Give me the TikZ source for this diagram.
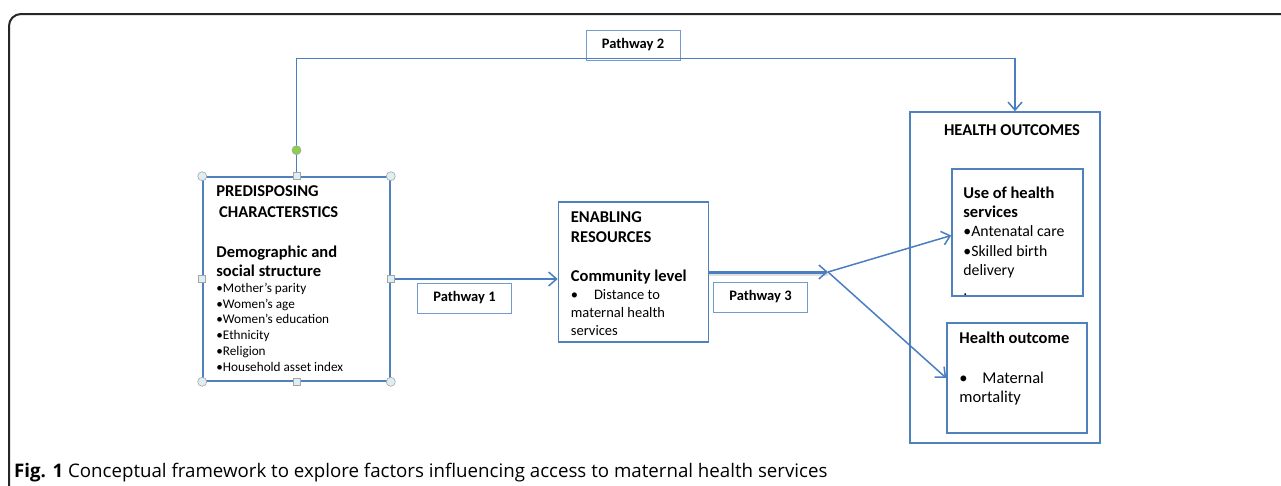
\documentclass[tikz,border=0pt]{standalone}
\usepackage{fontspec}
\setmainfont{Carlito}
\newfontfamily\capfont{Open Sans}
\usetikzlibrary{positioning,arrows.meta}
\definecolor{boxblue}{RGB}{79,129,189}
\definecolor{lineblue}{RGB}{74,126,193}
\definecolor{handlefill}{RGB}{222,238,245}
\definecolor{rotgreen}{RGB}{140,208,70}

\begin{document}
\begin{tikzpicture}[x=1pt,y=-1pt,
    box/.style 2 args={draw=boxblue,line width=1.6pt,minimum width=#1,minimum height=#2,inner sep=0pt},
    pathbox/.style={draw=boxblue!80,line width=1pt,minimum width=94pt,minimum height=30pt,inner sep=0pt,font=\fontsize{14.5}{16}\selectfont\bfseries},
    txt/.style={inner sep=0pt,anchor=base west,align=left}, % base = last line
    head/.style={txt,font=\fontsize{16.5}{20}\selectfont\bfseries},
    flow/.style={draw=lineblue,line width=1.5pt,-{Straight Barb[length=8pt,width=14pt,line width=1.5pt]}},
    handle/.style={draw=gray!70,fill=handlefill,line width=0.6pt}]
\useasboundingbox (0,0) rectangle (1281,485);
\draw[line width=2pt,black!85,rounded corners=12pt] (9,500) -- (9,14) -- (1300,14); % outer frame

% boxes
\node[box={187pt}{204pt}] (pre) at (296.5,279) {};
\node[box={150pt}{140pt}] (en) at (633.5,272) {};
\node[box={190pt}{331pt}] (ho) at (1005,277.5) {};
\node[box={131pt}{127pt}] (use) at (1017.5,232.5) {};
\node[box={140pt}{110pt}] (hout) at (1017,378) {};
\node[pathbox] (p1) at (464.5,298) {Pathway 1};
\node[pathbox] (p2) at (633,45) {Pathway 2};
\node[pathbox] (p3) at (760.5,297) {Pathway 3};
\coordinate (hub) at (828,272);

% texts in the boxes
\node[head,font=\fontsize{16.5}{21}\selectfont\bfseries] (preh) at ([shift={(14pt,-41pt)}]pre.north west) {PREDISPOSING\\ \,CHARACTERSTICS};
\node[head,font=\fontsize{16.5}{19}\selectfont\bfseries] (pres) at ([shift={(14pt,-100pt)}]pre.north west) {Demographic and\\social structure};
\node[txt,font=\fontsize{13.2}{15.8}\selectfont] (prel) at ([shift={(14pt,-195pt)}]pre.north west)
  {\textbullet Mother’s parity\\\textbullet Women’s age\\\textbullet Women’s education\\\textbullet Ethnicity\\\textbullet Religion\\\textbullet Household asset index};
\node[head] (enh) at ([shift={(13pt,-41pt)}]en.north west) {ENABLING\\RESOURCES};
\node[head] (ens) at ([shift={(13pt,-80pt)}]en.north west) {Community level};
\node[txt,font=\fontsize{14.5}{18}\selectfont] (enl) at ([shift={(13pt,-134pt)}]en.north west)
  {\textbullet\hspace{1.1em}Distance to\\maternal health\\services};
\node[head,anchor=base] (hoh) at ([shift={(7pt,-24pt)}]ho.north) {HEALTH OUTCOMES};
\node[head,font=\fontsize{16.5}{19}\selectfont\bfseries] (useh) at ([shift={(12pt,-49pt)}]use.north west) {Use of health\\services};
\node[txt,font=\fontsize{15.8}{19.5}\selectfont] (usel) at ([shift={(12pt,-127pt)}]use.north west)
  {\textbullet Antenatal care\\\textbullet Skilled birth\\delivery\\.};
\node[head] (houth) at ([shift={(13pt,-21pt)}]hout.north west) {Health outcome};
\node[txt,font=\fontsize{16.5}{19}\selectfont] (houtl) at ([shift={(13pt,-80pt)}]hout.north west)
  {\textbullet\hspace{0.9em}Maternal\\mortality};

% pathways
\draw[flow] (pre.north) |- ([yshift=2pt]p2.south) -| ([xshift=10pt]ho.north);
\draw[flow] (pre.east) -- (en.west |- pre.east);
\draw[black!12,line width=4pt] ([yshift=-2pt]en.east) -- ([yshift=-2pt]hub); % shadow
\draw[flow,line width=3pt] (en.east) -- (hub);
\draw[flow] (hub) -- ([yshift=-3pt]use.west);
\draw[flow] (hub) -- (hout.west);

% selection handles
\foreach \a in {north west,north east,south west,south east}
  \draw[handle] (pre.\a) circle (4.5);
\foreach \a in {north,south,east,west}
  \draw[handle] ([shift={(-3.5pt,-3.5pt)}]pre.\a) rectangle +(7,-7);
\draw[handle,fill=rotgreen] ([yshift=26pt]pre.north) circle (4.5);

\node[anchor=base west,inner sep=0pt,font=\capfont\fontsize{18.7}{22}\selectfont] (cap) at (14,477)
  {\textbf{Fig. 1} Conceptual framework to explore factors influencing access to maternal health services};
\end{tikzpicture}
\end{document}
